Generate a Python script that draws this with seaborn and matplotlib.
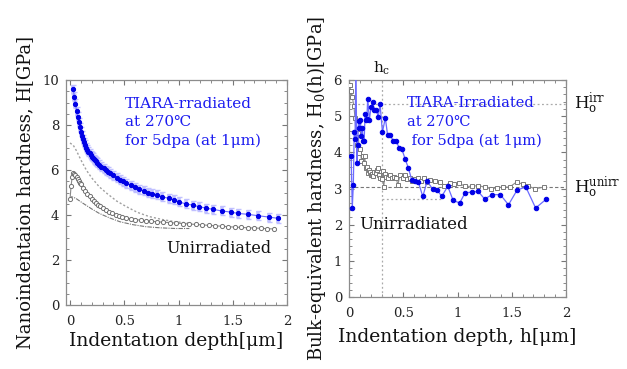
import matplotlib
matplotlib.use("Agg")
import matplotlib.pyplot as plt
import seaborn as sns
import pandas as pd
from matplotlib.ticker import MultipleLocator

# ---------------- data ----------------
# Left panel: nanoindentation hardness vs depth
h_irr = [0.03, 0.04, 0.05, 0.06, 0.07, 0.08, 0.09, 0.10, 0.11, 0.12,
         0.13, 0.14, 0.15, 0.16, 0.17, 0.18, 0.19, 0.20, 0.21, 0.22,
         0.23, 0.24, 0.25, 0.27, 0.29, 0.31, 0.33, 0.35, 0.37, 0.40,
         0.43, 0.46, 0.49, 0.52, 0.56, 0.60, 0.64, 0.68, 0.72, 0.76,
         0.80, 0.85, 0.91, 0.96, 1.00, 1.07, 1.13, 1.19, 1.25, 1.32,
         1.40, 1.48, 1.55, 1.64, 1.73, 1.83, 1.92]
H_irr = [9.60, 9.25, 8.95, 8.62, 8.36, 8.12, 7.90, 7.70, 7.52, 7.36,
         7.24, 7.12, 7.00, 6.90, 6.82, 6.74, 6.66, 6.60, 6.54, 6.48,
         6.43, 6.38, 6.33, 6.24, 6.15, 6.07, 5.99, 5.92, 5.85, 5.76,
         5.66, 5.57, 5.49, 5.41, 5.32, 5.23, 5.15, 5.07, 5.00, 4.94,
         4.89, 4.81, 4.74, 4.67, 4.59, 4.49, 4.44, 4.37, 4.31, 4.25,
         4.18, 4.13, 4.07, 4.03, 3.97, 3.91, 3.85]
H_irr_err = 0.2

h_unirr = [0.00, 0.01, 0.02, 0.03, 0.04, 0.05, 0.06, 0.07, 0.08, 0.09,
           0.10, 0.12, 0.14, 0.16, 0.18, 0.20, 0.22, 0.24, 0.26, 0.28,
           0.30, 0.33, 0.36, 0.39, 0.42, 0.45, 0.48, 0.52, 0.56, 0.60,
           0.65, 0.70, 0.75, 0.80, 0.86, 0.92, 0.98, 1.04, 1.10, 1.16,
           1.22, 1.28, 1.34, 1.40, 1.46, 1.52, 1.58, 1.64, 1.70, 1.76,
           1.82, 1.88]
H_unirr = [4.70, 5.30, 5.70, 5.85, 5.83, 5.76, 5.68, 5.60, 5.52, 5.44,
           5.36, 5.22, 5.08, 4.95, 4.83, 4.72, 4.62, 4.53, 4.45, 4.38,
           4.31, 4.22, 4.14, 4.07, 4.01, 3.96, 3.92, 3.87, 3.83, 3.80,
           3.77, 3.74, 3.72, 3.70, 3.68, 3.66, 3.64, 3.62, 3.60, 3.58,
           3.56, 3.54, 3.52, 3.50, 3.48, 3.46, 3.45, 3.43, 3.42, 3.41,
           3.39, 3.38]

h_upper = [0.00, 0.03, 0.06, 0.10, 0.15, 0.20, 0.27, 0.34, 0.43, 0.52,
           0.62, 0.73, 0.85, 0.97, 1.10]
H_upper = [7.20, 7.10, 6.85, 6.45, 6.00, 5.65, 5.25, 4.96, 4.62, 4.37,
           4.12, 3.93, 3.80, 3.70, 3.64]
h_lower = [0.00, 0.015, 0.05, 0.12, 0.20, 0.27, 0.36, 0.46, 0.58, 0.70,
           0.83, 0.97, 1.10]
H_lower = [4.70, 4.81, 4.75, 4.52, 4.27, 4.07, 3.88, 3.70, 3.57, 3.48,
           3.43, 3.40, 3.40]

# Right panel: bulk-equivalent hardness vs depth
h0_irr = [0.02, 0.03, 0.04, 0.048, 0.056, 0.064, 0.072, 0.08, 0.088, 0.096,
          0.105, 0.115, 0.123, 0.13, 0.14, 0.148, 0.157, 0.165, 0.172, 0.188,
          0.203, 0.218, 0.234, 0.25, 0.27, 0.286, 0.308, 0.335, 0.355, 0.378,
          0.41, 0.434, 0.465, 0.486, 0.517, 0.548, 0.578, 0.609, 0.64, 0.68,
          0.72, 0.77, 0.81, 0.855, 0.91, 0.96, 1.02, 1.07, 1.13, 1.19,
          1.25, 1.32, 1.395, 1.47, 1.55, 1.63, 1.72, 1.82]
H0_irr = [3.89, 2.45, 3.10, 4.56, 4.37, 6.60, 3.70, 4.20, 4.86, 4.68,
          4.90, 4.44, 4.68, 4.30, 4.32, 5.05, 4.90, 4.92, 5.48, 4.90,
          5.25, 5.39, 5.18, 5.18, 4.98, 5.34, 4.56, 4.95, 4.49, 4.49,
          4.30, 4.30, 4.12, 4.10, 3.82, 3.56, 3.24, 3.20, 3.17, 2.78,
          3.20, 2.99, 2.97, 2.78, 3.06, 2.67, 2.60, 2.88, 2.90, 2.92,
          2.71, 2.83, 2.83, 2.55, 2.96, 3.04, 2.46, 2.71]

h0_unirr = [0.005, 0.015, 0.03, 0.045, 0.055, 0.065, 0.075, 0.085, 0.095, 0.105,
            0.115, 0.125, 0.135, 0.145, 0.155, 0.165, 0.175, 0.185, 0.195, 0.205,
            0.215, 0.225, 0.235, 0.245, 0.255, 0.265, 0.28, 0.29, 0.30, 0.31,
            0.32, 0.33, 0.34, 0.355, 0.375, 0.395, 0.415, 0.435, 0.45, 0.47,
            0.50, 0.515, 0.535, 0.56, 0.58, 0.61, 0.64, 0.665, 0.69, 0.72,
            0.75, 0.79, 0.84, 0.88, 0.93, 0.97, 1.01, 1.07, 1.13, 1.19,
            1.25, 1.31, 1.36, 1.42, 1.48, 1.545, 1.60, 1.65, 1.71, 1.80]
H0_unirr = [5.87, 5.70, 5.53, 5.28, 4.96, 4.45, 4.20, 4.54, 3.99, 4.10,
            3.75, 3.89, 3.71, 3.90, 3.57, 3.60, 3.42, 3.50, 3.47, 3.38,
            3.40, 3.35, 3.45, 3.43, 3.50, 3.57, 3.38, 3.30, 3.26, 3.48,
            3.03, 3.40, 3.33, 3.30, 3.38, 3.30, 3.33, 3.30, 3.09, 3.38,
            3.30, 3.38, 3.26, 3.30, 3.22, 3.25, 3.29, 3.20, 3.29, 3.17,
            3.23, 3.20, 3.18, 3.08, 3.15, 3.12, 3.15, 3.06, 3.06, 3.08,
            3.04, 2.99, 3.02, 3.04, 3.04, 3.18, 3.12, 3.08, 2.99, 3.04]

H0_irr_level = 5.34
H0_unirr_level = 3.03
h_c = 0.30
low_level = 2.70

# ---------------- styling ----------------
sns.set_theme(style="white")
plt.rcParams["font.family"] = ["DejaVu Serif", "DejaVu Sans"]
plt.rcParams["mathtext.fontset"] = "dejavuserif"

BLUE = "#0000e6"
BLUE_LINE = "#6b6bff"
GRAY = "#8a8a8a"
TXT_BLUE = "#1c1cf0"

fig = plt.figure(figsize=(6.27, 3.69), dpi=100)
ax1 = fig.add_axes([66 / 627, 1 - 305 / 369, 221 / 627, 225 / 369])
ax2 = fig.add_axes([349 / 627, 1 - 297 / 369, 217 / 627, 217 / 369])


def style_axes(ax, xminor, yminor):
    for s in ax.spines.values():
        s.set_color("#8c8c8c")
        s.set_linewidth(0.9)
    ax.xaxis.set_minor_locator(MultipleLocator(xminor))
    ax.yaxis.set_minor_locator(MultipleLocator(yminor))
    ax.tick_params(which="both", direction="in", top=True, right=True,
                   bottom=True, left=True,
                   color="#777777", labelsize=9.5, labelcolor="#222222")
    ax.tick_params(which="major", length=3.5, width=0.8)
    ax.tick_params(which="minor", length=2, width=0.6)
    ax.tick_params(axis="x", which="both", pad=7)
    ax.tick_params(axis="y", which="both", pad=5)


# ---------- left panel ----------
ax1.errorbar(h_irr, H_irr, yerr=H_irr_err, fmt="none", ecolor="#c0c0ff",
             elinewidth=2.6, capsize=1.8, zorder=1)
sns.lineplot(x=h_upper, y=H_upper, ax=ax1, color="#a0a0a0", lw=1.0,
             linestyle=(0, (1.5, 1.5)), estimator=None, zorder=2)
sns.lineplot(x=h_lower, y=H_lower, ax=ax1, color="#777777", lw=0.8,
             linestyle=(0, (4, 1, 1, 1)), estimator=None, zorder=2)
sns.lineplot(x=h_unirr, y=H_unirr, ax=ax1, color=GRAY, lw=0.8,
             marker="o", markersize=3.0, markerfacecolor="white",
             markeredgecolor="#707070", markeredgewidth=0.7,
             estimator=None, zorder=3)
sns.lineplot(x=h_irr, y=H_irr, ax=ax1, color=BLUE_LINE, lw=0.8,
             marker="o", markersize=3.0, markerfacecolor=BLUE,
             markeredgecolor=BLUE, estimator=None, zorder=4)

ax1.set_xlim(-0.037, 2.0)
ax1.set_ylim(0, 10)
ax1.yaxis.set_major_locator(MultipleLocator(2))
ax1.set_xticks([0, 0.5, 1, 1.5, 2])
ax1.set_xticklabels(["0", "0.5", "1", "1.5", "2"])
style_axes(ax1, 0.1, 0.5)
ax1.set_xlabel("Indentatıon depth[μm]", fontsize=13.5, labelpad=3, color="#111111")
ax1.set_ylabel("Nanoindentaion hardness, H[GPa]", fontsize=13, labelpad=6, color="#111111")

ax1.text(0.51, 9.25, "TIARA-rradiated\nat 270℃\nfor 5dpa (at 1μm)",
         color=TXT_BLUE, fontsize=11, va="top", ha="left", linespacing=1.4)
ax1.text(1.86, 2.53, "Unirradiated", color="#111111", fontsize=11.5,
         va="center", ha="right")

# ---------- right panel ----------
ax2.axhline(H0_unirr_level, color="#777777", lw=0.8, linestyle=(0, (3, 2)), zorder=1)
ax2.plot([0.0, 2.0], [H0_irr_level, H0_irr_level], color="#aaaaaa", lw=0.9,
         linestyle=(0, (1.5, 2)), zorder=1)
ax2.axvline(h_c, color="#aaaaaa", lw=0.9, linestyle=(0, (1.5, 2)), zorder=1)
ax2.plot([h_c, 0.85], [low_level, low_level], color="#aaaaaa", lw=0.9,
         linestyle=(0, (1.5, 2)), zorder=1)

sns.lineplot(x=h0_unirr, y=H0_unirr, ax=ax2, color="#8a8a8a", lw=0.8,
             marker="s", markersize=2.8, markerfacecolor="white",
             markeredgecolor="#7a7a7a", markeredgewidth=0.7,
             estimator=None, zorder=3)
sns.lineplot(x=h0_irr, y=H0_irr, ax=ax2, color=BLUE_LINE, lw=0.9,
             marker="o", markersize=3.2, markerfacecolor=BLUE,
             markeredgecolor=BLUE, estimator=None, zorder=4)

ax2.set_xlim(0, 2)
ax2.set_ylim(0, 6)
ax2.set_xticks([0, 0.5, 1, 1.5, 2])
ax2.set_xticklabels(["0", "0.5", "1", "1.5", "2"])
ax2.yaxis.set_major_locator(MultipleLocator(1))
style_axes(ax2, 0.1, 0.2)
ax2.set_xlabel("Indentation depth, h[μm]", fontsize=13.5, labelpad=6, color="#111111")
ax2.set_ylabel("Bulk-equivalent hardness, H$_0$(h)[GPa]", fontsize=13,
               labelpad=4, color="#111111")

ax2.text(0.535, 5.55, "TIARA-Irradiated\nat 270℃\n for 5dpa (at 1μm)",
         color=TXT_BLUE, fontsize=10.5, va="top", ha="left", linespacing=1.4)
ax2.text(0.09, 2.0, "Unirradiated", color="#111111", fontsize=12,
         va="center", ha="left")
ax2.text(2.07, H0_irr_level, r"H$_\mathrm{o}^\mathrm{irr}$", fontsize=12,
         va="center", ha="left", color="#111111", clip_on=False)
ax2.text(2.07, H0_unirr_level, r"H$_\mathrm{o}^\mathrm{unirr}$", fontsize=12,
         va="center", ha="left", color="#111111", clip_on=False)
ax2.text(h_c, 6.32, r"h$_\mathrm{c}$", fontsize=11, va="center", ha="center",
         color="#111111", clip_on=False)

for ax in (ax1, ax2):
    leg = ax.get_legend()
    if leg is not None:
        leg.remove()

fig.savefig("out.png", dpi=100)
